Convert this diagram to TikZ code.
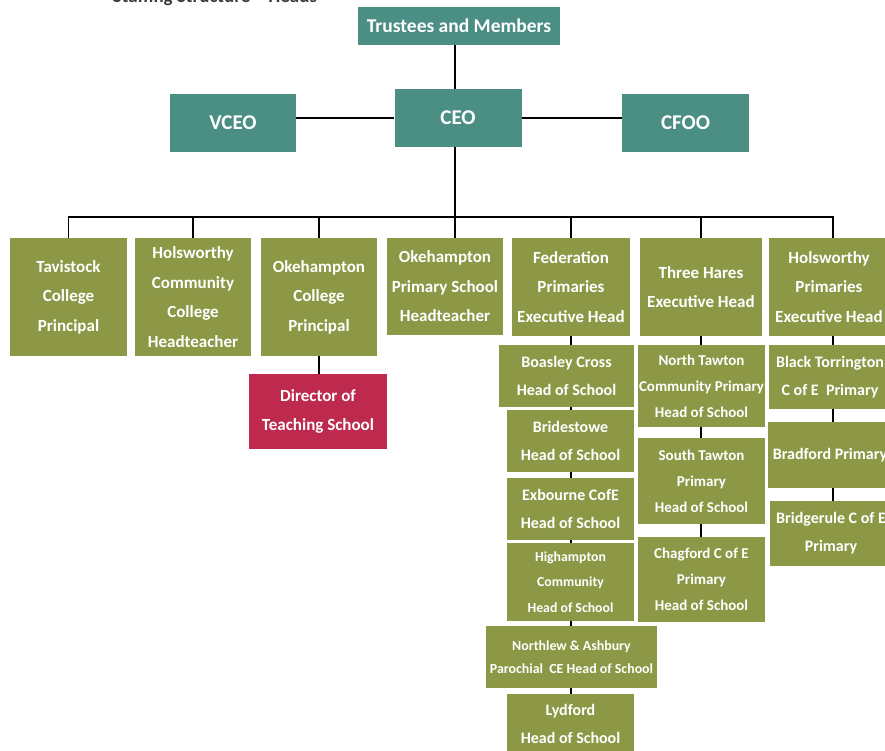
\documentclass[tikz,border=0pt]{standalone}
\usepackage{fontspec}
\setmainfont{Carlito}
\definecolor{tealbox}{RGB}{74,142,132}
\definecolor{olivebox}{RGB}{140,152,70}
\definecolor{crimbox}{RGB}{190,42,78}
\definecolor{titlegray}{RGB}{60,60,60}
\begin{document}
\begin{tikzpicture}[x=1pt,y=-1pt,
  box/.style={fill=#1,text=white,font=\bfseries,align=center,inner sep=0pt},
  topbox/.style={box=tealbox,font=\bfseries\fontsize{21}{24}\selectfont},
  rowbox/.style={box=olivebox,font=\bfseries\fontsize{17}{29.5}\selectfont},
  subbox/.style={box=olivebox,font=\bfseries\fontsize{16}{28}\selectfont},
  smallbox/.style={box=olivebox,font=\bfseries\fontsize{15}{26}\selectfont},
  tinybox/.style={box=olivebox,font=\bfseries\fontsize{13.9}{23}\selectfont},
  conn/.style={draw=black,line width=1.6pt}]
\useasboundingbox (0,0) rectangle (885,751);
\node[anchor=base,text=titlegray,font=\bfseries\fontsize{19}{21}\selectfont] (title) at (215,2.5) {Staffing Structure -- Heads};
% top
\node[topbox,font=\bfseries\fontsize{19.5}{22}\selectfont,minimum width=202pt,minimum height=38pt] (trus) at (459,26) {Trustees and Members};
\node[topbox,minimum width=127pt,minimum height=58pt] (ceo) at (458,118) {CEO};
\node[topbox,minimum width=126pt,minimum height=58pt] (vceo) at (233,123) {VCEO};
\node[topbox,minimum width=127pt,minimum height=58pt] (cfoo) at (685.5,123) {CFOO};
% second row
\node[rowbox,minimum width=117pt,minimum height=118pt] (tav) at (68.5,297) {Tavistock\\College\\Principal};
\node[rowbox,minimum width=116pt,minimum height=118pt] (hcc) at (193,297) {Holsworthy\\Community\\College\\Headteacher};
\node[rowbox,minimum width=116pt,minimum height=118pt] (okc) at (319,297) {Okehampton\\College\\Principal};
\node[rowbox,minimum width=116pt,minimum height=97pt] (okp) at (445,286.5) {Okehampton\\Primary School\\Headteacher};
\node[rowbox,minimum width=118pt,minimum height=98pt] (fed) at (571,287) {Federation\\Primaries\\Executive Head};
\node[rowbox,minimum width=122pt,minimum height=98pt] (thh) at (701,287) {Three Hares\\Executive Head};
\node[rowbox,minimum width=120pt,minimum height=98pt] (hop) at (829,287) {Holsworthy\\Primaries\\Executive Head};
\node[box=crimbox,font=\bfseries\fontsize{17}{29.5}\selectfont,minimum width=138pt,minimum height=75pt] (dts) at (318,411.5) {Director of\\Teaching School};
% federation column
\node[subbox,minimum width=135pt,minimum height=62pt] (boa) at (566.5,376) {Boasley Cross\\Head of School};
\node[subbox,minimum width=127pt,minimum height=62pt] (bri) at (570.5,441) {Bridestowe\\Head of School};
\node[subbox,minimum width=127pt,minimum height=62pt] (exb) at (570.5,509) {Exbourne CofE\\Head of School};
\node[smallbox,font=\bfseries\fontsize{13.8}{25.5}\selectfont,minimum width=127pt,minimum height=78pt] (hig) at (570.5,582) {Highampton\\Community\\Head of School};
\node[tinybox,minimum width=171pt,minimum height=62pt] (nor) at (571.5,657) {Northlew \& Ashbury\\Parochial\ \ CE Head of School};
\node[subbox,minimum width=127pt,minimum height=60pt] (lyd) at (570.5,724) {Lydford\\Head of School};
% three hares column
\node[smallbox,minimum width=127pt,minimum height=82pt] (nt) at (701.5,386) {North Tawton\\Community Primary\\Head of School};
\node[smallbox,minimum width=127pt,minimum height=86pt] (st) at (701.5,481) {South Tawton\\Primary\\Head of School};
\node[smallbox,minimum width=127pt,minimum height=85pt] (cha) at (701.5,579.5) {Chagford C of E\\Primary\\Head of School};
% holsworthy primaries column
\node[subbox,minimum width=122pt,minimum height=64pt] (bt) at (830,377) {Black Torrington\\C of E\ \ Primary};
\node[subbox,minimum width=124pt,minimum height=66pt] (bra) at (830,455) {Bradford Primary};
\node[subbox,minimum width=122pt,minimum height=65pt] (brg) at (831,533.5) {Bridgerule C of E\\Primary};
% connectors
\coordinate (bus) at (455,217);
\draw[conn] (trus.south -| ceo.north) ++(-3,0) coordinate (t1) -- (t1 |- ceo.north);
\draw[conn] (vceo.east |- ceo.west) -- (ceo.west);
\draw[conn] (ceo.east) -- (cfoo.west |- ceo.east);
\draw[conn] (t1 |- ceo.south) -- (t1 |- okp.north);
\draw[conn] (tav.north) -- (tav.north |- bus) -- ([xshift=4pt]hop.north |- bus) -- ([xshift=4pt]hop.north);
\draw[conn] (hcc.north) -- (hcc.north |- bus);
\draw[conn] (okc.north) -- (okc.north |- bus);
\draw[conn] (fed.north) -- (fed.north |- bus);
\draw[conn] (thh.north) -- (thh.north |- bus);
\draw[conn] (okc.south) -- (okc.south |- dts.north);
\draw[conn] (fed.south) -- (fed.south |- boa.north);
\draw[conn] (fed.south |- boa.south) -- (fed.south |- bri.north);
\draw[conn] (fed.south |- bri.south) -- (fed.south |- exb.north);
\draw[conn] (fed.south |- exb.south) -- (fed.south |- hig.north);
\draw[conn] (fed.south |- hig.south) -- (fed.south |- nor.north);
\draw[conn] (fed.south |- nor.south) -- (fed.south |- lyd.north);
\draw[conn] (thh.south) -- (thh.south |- nt.north);
\draw[conn] (thh.south |- nt.south) -- (thh.south |- st.north);
\draw[conn] (thh.south |- st.south) -- (thh.south |- cha.north);
\draw[conn] ([xshift=4pt]hop.south) -- ([xshift=4pt]hop.south |- bt.north);
\draw[conn] ([xshift=4pt]hop.south |- bt.south) -- ([xshift=4pt]hop.south |- bra.north);
\draw[conn] ([xshift=4pt]hop.south |- bra.south) -- ([xshift=4pt]hop.south |- brg.north);
\end{tikzpicture}
\end{document}
